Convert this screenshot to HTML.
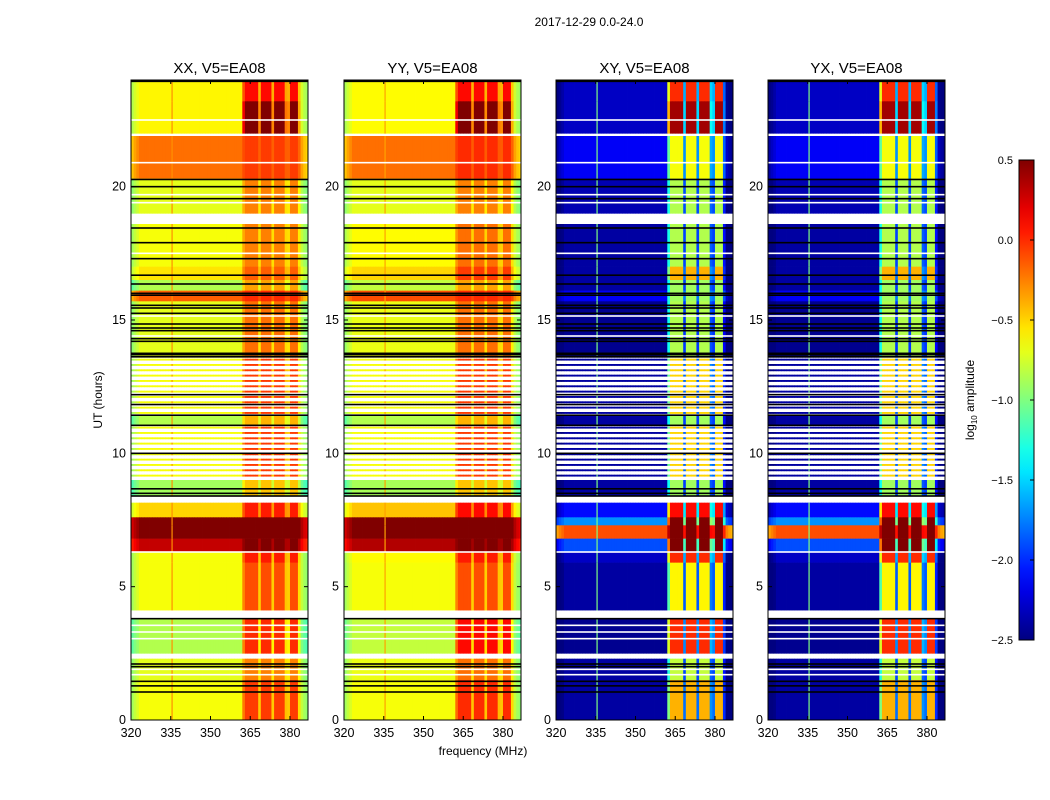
<!DOCTYPE html>
<html><head><meta charset="utf-8"><style>
html,body{margin:0;padding:0;background:#fff;}
svg{display:block;font-family:"Liberation Sans","DejaVu Sans",sans-serif;}
</style></head><body>
<svg id="fig" width="1050" height="800" viewBox="0 0 1050 800" xmlns="http://www.w3.org/2000/svg">
<text x="589" y="26" font-size="12" text-anchor="middle">2017-12-29 0.0-24.0</text>
<text x="102" y="400" font-size="12" text-anchor="middle" transform="rotate(-90 102 400)">UT (hours)</text>
<text x="483" y="755" font-size="12" text-anchor="middle">frequency (MHz)</text>
<g id="panels"></g>
<g id="cbar"></g>
<text x="974" y="400" font-size="12" text-anchor="middle" transform="rotate(-90 974 400)">log<tspan font-size="8" dy="3">10</tspan><tspan dy="-3"> amplitude</tspan></text>
</svg>
<script>
// ---- data ----
const panelNames = ["XX, V5=EA08","YY, V5=EA08","XY, V5=EA08","YX, V5=EA08"];
const xTicks = [320,335,350,365,380];
const yTicks = [0,5,10,15,20];
const cbTicks = [0.5,0.0,-0.5,-1.0,-1.5,-2.0,-2.5];
const cbLabels = ["0.5","0.0","\u22120.5","\u22121.0","\u22121.5","\u22122.0","\u22122.5"];
// time segments (hours, top -> bottom)
const segTop = [24.0,23.2,22.0,21.9,20.3,19.0,18.6,17.0,16.5,16.1,15.7,13.6,11.45,11.05,9.0,8.4,8.15,7.6,7.3,6.8,6.3,5.9,4.12,3.82,2.5,2.3,1.5];
const segBot = [23.2,22.0,21.9,20.3,19.0,18.6,17.0,16.5,16.1,15.7,13.6,11.45,11.05,9.0,8.4,8.15,7.6,7.3,6.8,6.3,5.9,4.12,3.82,2.5,2.3,1.5,0.0];
const segKind = ["d","d","w","d","d","w","d","d","d","d","d","s","d","s","d","w","d","d","d","d","d","d","w","d","w","d","d"];
const xxOff = [-0.6,-0.6,0,-0.2,-0.7,0,-0.65,-0.55,-0.85,-0.15,-0.7,-0.65,-0.85,-0.65,-0.9,0,-0.5,0.5,0.5,0.3,-0.65,-0.65,0,-0.85,0,-0.7,-0.65];
const xxOn  = [0.1,0.5,0,-0.05,-0.25,0,-0.25,-0.15,-0.35,0.0,-0.2,-0.05,-0.4,-0.05,-0.45,0,0.05,0.5,0.5,0.5,0.05,-0.1,0,0.0,0,-0.25,-0.05];
const yyOff = [-0.62,-0.62,0,-0.2,-0.7,0,-0.62,-0.5,-0.8,-0.1,-0.68,-0.65,-0.85,-0.65,-0.88,0,-0.45,0.5,0.5,0.35,-0.62,-0.65,0,-0.8,0,-0.68,-0.65];
const yyOn  = [0.1,0.5,0,0.0,-0.25,0,-0.2,-0.05,-0.35,0.0,-0.2,-0.05,-0.4,-0.05,-0.45,0,0.1,0.5,0.5,0.5,0.05,-0.1,0,0.1,0,-0.2,0.0];
const xyOff = [-2.3,-2.3,0,-2.15,-2.35,0,-2.4,-2.4,-2.4,-2.15,-2.45,-2.4,-2.4,-2.4,-2.4,0,-2.1,-1.7,-0.1,-1.9,-2.3,-2.4,0,-2.45,0,-2.4,-2.4];
const xyOn  = [0.0,0.4,0,-0.65,-0.85,0,-0.85,-0.4,-0.9,-0.9,-0.85,-0.5,-0.9,-0.5,-0.9,0,0.1,0.5,0.5,0.5,0.0,-0.6,0,0.0,0,-0.8,-0.4];
const yxOff = [-2.3,-2.3,0,-2.15,-2.35,0,-2.4,-2.4,-2.4,-2.15,-2.45,-2.4,-2.4,-2.4,-2.4,0,-2.1,-1.7,-0.1,-1.9,-2.3,-2.4,0,-2.45,0,-2.4,-2.4];
const yxOn  = [0.0,0.4,0,-0.65,-0.85,0,-0.85,-0.4,-0.9,-0.9,-0.85,-0.5,-0.9,-0.5,-0.9,0,0.1,0.5,0.5,0.5,0.0,-0.6,0,0.0,0,-0.8,-0.4];
// frequency channel band weights (1 MHz channels starting at 320)
const chanStart = 320;
const bandWeight = [0,0,0,0,0,0,0,0,0,0,0,0,0,0,0,0,0,0,0,0,0,0,0,0,0,0,0,0,0,0,0,0,0,0,0,0,0,0,0,0,0,0,
  0.7,1,1,1,1,1,0.3,1,1,1,1,0.3,1,1,1,1,0.35,0.3,1,1,1,0.2,0,0,0];
const edgeDrop = [-0.25,-0.15,-0.08,0,0,0,0,0,0,0,0,0,0,0,0,0,0,0,0,0,0,0,0,0,0,0,0,0,0,0,0,0,0,0,0,0,0,0,0,0,0,0,
  0,0,0,0,0,0,0,0,0,0,0,0,0,0,0,0,0,0,0,0,0,0,-0.15,-0.25,-0.3];
const spikeFreq = 335.5;
const spikeLevel = [-0.3,-0.35,-1.0,-1.0];
const blackLines = [24.0,23.95,20.27,20.0,19.55,18.45,17.9,17.3,16.68,16.35,16.0,15.93,15.55,15.45,15.25,14.85,14.7,14.6,14.3,14.2,13.75,13.7,13.62,12.2,11.83,11.43,11.05,10.0,8.67,8.5,8.4,3.8,2.1,2.0,1.45,1.28,1.05];
const whiteLines = [22.5,20.9,19.7,19.4,17.5,15.15,14.4,6.3,3.55,3.3,3.05,1.9,1.7];
const panelOff = [xxOff,yyOff,xyOff,yxOff];
const panelOn = [xxOn,yyOn,xyOn,yxOn];
// ---- layout ----
const panelX = [131,344,556,768];
const PW = 177, PT = 80, PB = 720;
const fMin = 320, fMax = 386.8;
const NS = "http://www.w3.org/2000/svg";
function yS(h){ return PB - (PB-PT)*h/24; }
function xS(px,f){ return px + PW*(f-fMin)/(fMax-fMin); }
function jet(v){
  let t = (v+2.5)/3; t = Math.max(0,Math.min(1,t));
  const c = x => Math.round(255*Math.max(0,Math.min(1,x)));
  return `rgb(${c(1.5-Math.abs(4*t-3))},${c(1.5-Math.abs(4*t-2))},${c(1.5-Math.abs(4*t-1))})`;
}
function mk(tag,attrs,parent){ const e=document.createElementNS(NS,tag); for(const k in attrs) e.setAttribute(k,attrs[k]); parent.appendChild(e); return e; }
const root = document.getElementById("panels");
panelNames.forEach((name,p)=>{
  const px = panelX[p];
  const g = mk("g",{},root);
  
  
  const clip = mk("clipPath",{id:"c"+p},g); mk("rect",{x:px,y:PT,width:PW,height:PB-PT},clip);
  const hm = mk("g",{"clip-path":"url(#c"+p+")"},g);
  
  
  segTop.forEach((top,s)=>{
    const bot = segBot[s], kind = segKind[s];
    if(kind==="w") return;
    const rows = [];
    if(kind==="s"){ for(let h=top-0.08; h>bot; h-=0.2) rows.push([h+0.03,h-0.03]); }
    else rows.push([top,bot]);
    rows.forEach(([rt,rb])=>{
      for(let i=0;i<bandWeight.length;i++){
        const f0 = chanStart+i, f1 = f0+1;
        const v = panelOff[p][s] + bandWeight[i]*(panelOn[p][s]-panelOff[p][s]) + edgeDrop[i];
        const x0 = xS(px,f0), x1 = xS(px,f1);
        const r = mk("rect",{x:x0.toFixed(2),y:yS(rt).toFixed(2),width:(x1-x0+0.4).toFixed(2),height:(yS(rb)-yS(rt)+0.3).toFixed(2),fill:jet(v)},hm);
        
        
      }
      const sx = xS(px,spikeFreq);
      const sp = mk("rect",{x:(sx-0.6).toFixed(2),y:yS(rt).toFixed(2),width:1.2,height:(yS(rb)-yS(rt)+0.3).toFixed(2),fill:jet(spikeLevel[p])},hm);
      
      
    });
  });
  whiteLines.forEach(h=>{ const l=mk("rect",{x:px,y:yS(h)-0.8,width:PW,height:1.6,fill:"#fff"},hm);
    
     });
  blackLines.forEach(h=>{ const l=mk("rect",{x:px,y:yS(h)-0.8,width:PW,height:1.6,fill:"#000"},hm);
    
     });
  const fr = mk("rect",{x:px,y:PT,width:PW,height:PB-PT,fill:"none",stroke:"#000","stroke-width":1},g);
  
  
  const t = mk("text",{x:px+PW/2,y:PT-7,"font-size":15,"text-anchor":"middle"},g); t.textContent=name;
  
  
  xTicks.forEach(f=>{
    const x = xS(px,f);
    mk("line",{x1:x,x2:x,y1:PB,y2:PB-4,stroke:"#000"},g);
    mk("line",{x1:x,x2:x,y1:PT,y2:PT+4,stroke:"#000"},g);
    const tl = mk("text",{x:x,y:PB+17,"font-size":12.5,"text-anchor":"middle"},g); tl.textContent=f;
    
    
  });
  yTicks.forEach(h=>{
    const y = yS(h);
    mk("line",{x1:px,x2:px+4,y1:y,y2:y,stroke:"#000"},g);
    mk("line",{x1:px+PW,x2:px+PW-4,y1:y,y2:y,stroke:"#000"},g);
    const tl = mk("text",{x:px-5,y:y+4,"font-size":12.5,"text-anchor":"end"},g); tl.textContent=h;
    
    
  });
});
// colorbar
const cb = document.getElementById("cbar");
const cbX=1019, cbW=15, cbT=160, cbB=640;
const defs = mk("defs",{},cb);
const grad = mk("linearGradient",{id:"jetg",x1:0,y1:1,x2:0,y2:0},defs);
for(let k=0;k<=20;k++){ mk("stop",{offset:k/20,"stop-color":jet(-2.5+3*k/20)},grad); }
mk("rect",{x:cbX,y:cbT,width:cbW,height:cbB-cbT,fill:"url(#jetg)",stroke:"#000","stroke-width":1},cb);
cbTicks.forEach((v,k)=>{
  const y = cbT + (0.5-v)/3*(cbB-cbT);
  mk("line",{x1:cbX+cbW-4,x2:cbX+cbW,y1:y,y2:y,stroke:"#000"},cb);
  const tl = mk("text",{x:1013,y:y+4,"font-size":11,"text-anchor":"end"},cb); tl.textContent=cbLabels[k];
  
  
});
</script>
</body></html>
